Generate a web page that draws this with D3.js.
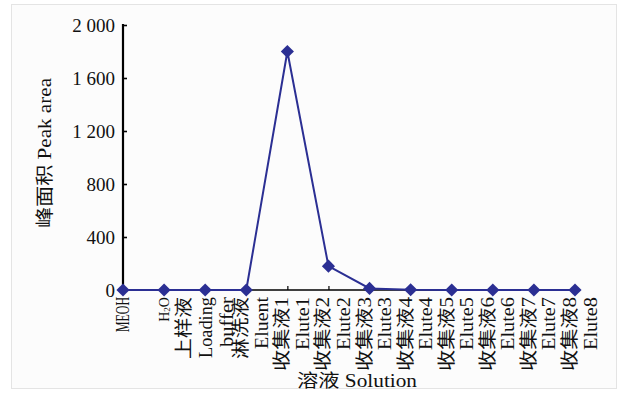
<!DOCTYPE html>
<html><head><meta charset="utf-8">
<script src="https://cdn.jsdelivr.net/npm/d3@7"></script>
<style>
html,body{margin:0;padding:0;background:#fff;}
svg text{font-family:"Liberation Serif","Noto Sans CJK SC",serif;fill:#111;}
</style></head>
<body><svg id="c" width="622" height="396"></svg>
<script>
// ---- data ----
const categories = ["MEOH","H2O","上样液 Loading buffer","淋洗液 Eluent","收集液1 Elute1","收集液2 Elute2","收集液3 Elute3","收集液4 Elute4","收集液5 Elute5","收集液6 Elute6","收集液7 Elute7","收集液8 Elute8"];
const peakArea = [0, 0, 0, 0, 1800, 180, 12, 2, 0, 0, 0, 0];
const yTicks = [0, 400, 800, 1200, 1600, 2000];
const yTickLabels = ["0","400","800","1 200","1 600","2 000"];
const labelLines = [
  ["MEOH"],["H2O"],["上样液","Loading","buffer"],["淋洗液","Eluent"],
  ["收集液1","Elute1"],["收集液2","Elute2"],["收集液3","Elute3"],["收集液4","Elute4"],
  ["收集液5","Elute5"],["收集液6","Elute6"],["收集液7","Elute7"],["收集液8","Elute8"]
];
const yTitle = "峰面积 Peak area";
const xTitle = "溶液 Solution";

// ---- layout ----
const svg = d3.select("#c");
svg.append("rect").attr("x",11.5).attr("y",4.5).attr("width",605).attr("height",384)
  .attr("fill","#fcfcfc").attr("stroke","#e4e4e4");

const x = d3.scalePoint().domain(categories).range([123, 575]).padding(0);
const y = d3.scaleLinear().domain([0, 2000]).range([290, 25]);
const blue = "#2b2f93";

// y axis
const yAxis = d3.axisLeft(y).tickValues(yTicks).tickSize(-4).tickPadding(8)
  .tickFormat((d,i)=>yTickLabels[i]);
const gy = svg.append("g").attr("transform","translate(123,0)").call(yAxis);
gy.select(".domain").remove();
gy.append("line").attr("x1",0).attr("x2",0).attr("y1",y(2000)-1).attr("y2",y(0))
  .attr("stroke","#000").attr("stroke-width",2.2);
gy.selectAll(".tick line").attr("stroke","#000").attr("stroke-width",1.6);
gy.selectAll(".tick text").attr("font-size",19).attr("fill","#111")
  .attr("font-family",'"Liberation Serif",serif').attr("dy","0.34em");

// x axis
const xAxis = d3.axisBottom(x).tickSize(-4).tickFormat("");
const gx = svg.append("g").attr("transform","translate(0,290)").call(xAxis);
gx.select(".domain").remove();
gx.append("line").attr("x1",122).attr("x2",x.range()[1]).attr("y1",0).attr("y2",0)
  .attr("stroke","#000").attr("stroke-width",1.6);
gx.selectAll(".tick line").attr("stroke","#000").attr("stroke-width",1.2);

// x labels (rotated)
const lengths = {"MEOH":35,"Loading":61,"buffer":50,"Eluent":52};
function lineLen(s){
  if (lengths[s]) return lengths[s];
  if (/^收集液/.test(s)) return 74;
  if (/^Elute/.test(s)) return 53;
  if (/液$/.test(s)) return 62;
  return null;
}
labelLines.forEach((lines, i) => {
  const cx = x(categories[i]);
  let offs;
  if (lines.length === 1) offs = [0];
  else if (lines.length === 2) offs = [-5, 15.5];
  else offs = [-21, 1, 22];
  lines.forEach((s, j) => {
    const t = svg.append("text")
      .attr("transform", `translate(${cx + offs[j]},297) rotate(-90)`)
      .attr("text-anchor","end").attr("dominant-baseline","central")
      .attr("font-size", 18);
    if (s === "H2O") {
      t.attr("font-size",14);
      t.append("tspan").text("H");
      t.append("tspan").text("2").attr("font-size",9).attr("dy","0.35em");
      t.append("tspan").text("O").attr("dy","-0.25em");
    } else {
      t.text(s);
      const L = lineLen(s);
      if (L) t.attr("textLength", L).attr("lengthAdjust","spacingAndGlyphs");
    }
  });
});

// line + markers
const line = d3.line().x((d,i)=>x(categories[i])).y(d=>y(d));
svg.append("path").datum(peakArea).attr("d", line)
  .attr("fill","none").attr("stroke", blue).attr("stroke-width",2);
svg.selectAll("path.pt").data(peakArea).enter().append("path")
  .attr("class","pt")
  .attr("d", d3.symbol().type(d3.symbolDiamond2).size(110))
  .attr("transform",(d,i)=>`translate(${x(categories[i])},${y(d)})`)
  .attr("fill", blue);

// titles
svg.append("text").attr("transform","translate(45,153) rotate(-90)")
  .attr("text-anchor","middle").attr("dominant-baseline","central")
  .attr("font-size",18).attr("textLength",150).attr("lengthAdjust","spacingAndGlyphs")
  .text(yTitle);
svg.append("text").attr("x",357).attr("y",381)
  .attr("text-anchor","middle").attr("dominant-baseline","central")
  .attr("font-size",18).attr("textLength",120).attr("lengthAdjust","spacingAndGlyphs")
  .text(xTitle);
</script></body></html>
